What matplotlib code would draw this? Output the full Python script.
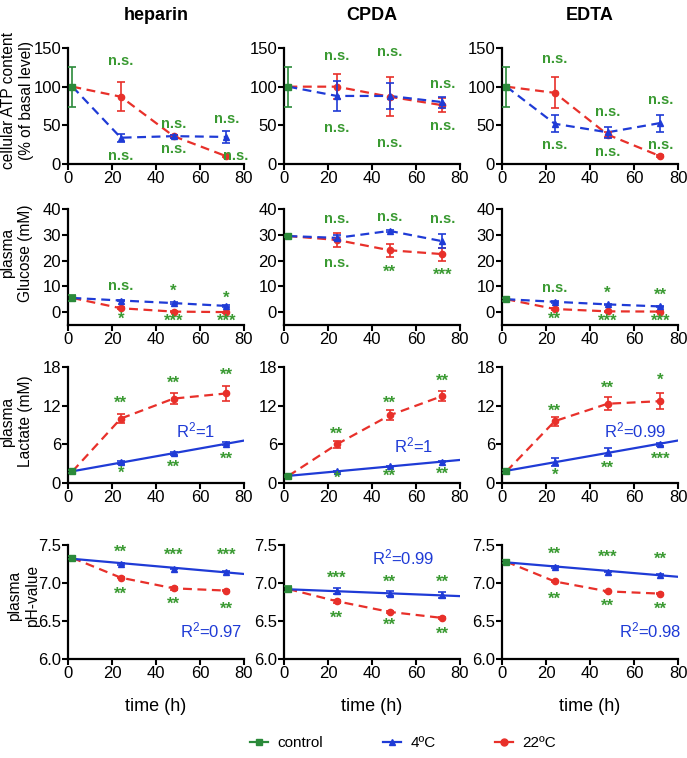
import numpy as np
import matplotlib
matplotlib.use("Agg")
import matplotlib.pyplot as plt
from matplotlib.lines import Line2D

plt.rcParams['font.family'] = ['Liberation Sans', 'DejaVu Sans']
plt.rcParams['mathtext.default'] = 'regular'

columns = ["heparin", "CPDA", "EDTA"]
t_control = 2
times = [24, 48, 72]

# ATP (% of basal level)
atp_control = [100, 100, 100]
atp_control_err = [26, 26, 26]
atp_4c = [[34, 36, 35], [88, 88, 80], [52, 41, 53]]
atp_4c_err = [[5, 2, 8], [19, 17, 7], [11, 7, 11]]
atp_22c = [[87, 36, 10], [100, 87, 76], [92, 38, 10]]
atp_22c_err = [[19, 2, 1], [16, 25, 9], [20, 3, 1]]

# plasma glucose (mM)
glu_control = [5.5, 29.5, 5.0]
glu_control_err = [1.0, 0.5, 0.5]
glu_4c = [[4.5, 3.5, 2.4], [28.8, 31.5, 27.5], [4.0, 3.0, 2.2]]
glu_4c_err = [[0.3, 0.3, 0.3], [1.0, 0.5, 2.8], [0.3, 0.3, 0.3]]
glu_22c = [[1.5, 0.2, 0.0], [28.0, 24.0, 22.5], [1.2, 0.3, 0.2]]
glu_22c_err = [[0.3, 0.2, 0.2], [2.8, 2.5, 2.5], [0.3, 0.2, 0.2]]

# plasma lactate (mM)
lac_control = [1.8, 1.1, 1.8]
lac_control_err = [0.2, 0.2, 0.2]
lac_4c = [[3.2, 4.6, 6.1], [1.8, 2.6, 3.3], [3.3, 4.8, 6.0]]
lac_4c_err = [[0.2, 0.2, 0.2], [0.1, 0.1, 0.1], [0.6, 0.6, 0.2]]
lac_22c = [[10.0, 13.1, 13.9], [6.0, 10.5, 13.5], [9.6, 12.3, 12.7]]
lac_22c_err = [[0.7, 0.8, 1.1], [0.5, 0.8, 0.8], [0.7, 1.0, 1.2]]

# plasma pH
ph_control = [7.33, 6.92, 7.28]
ph_control_err = [0.02, 0.04, 0.02]
ph_4c = [[7.25, 7.19, 7.15], [6.89, 6.86, 6.84], [7.21, 7.15, 7.11]]
ph_4c_err = [[0.01, 0.01, 0.01], [0.04, 0.03, 0.04], [0.01, 0.01, 0.01]]
ph_22c = [[7.07, 6.93, 6.90], [6.76, 6.62, 6.54], [7.02, 6.89, 6.86]]
ph_22c_err = [[0.01, 0.02, 0.01], [0.02, 0.01, 0.01], [0.01, 0.01, 0.01]]

# significance labels (upper / lower) at 24, 48, 72 h
atp_sig_up = [["n.s."] * 3] * 3
atp_sig_up_y = [[133, 52, 58], [140, 145, 103], [136, 67, 83]]
atp_sig_lo = [["n.s."] * 3] * 3
atp_sig_lo_y = [[10, 19, 10], [46, 27, 49], [25, 15, 24]]

glu_sig_up = [["n.s.", "*", "*"], ["n.s.", "n.s.", "n.s."], ["n.s.", "*", "**"]]
glu_sig_up_y = [[10.2, 8.6, 5.9], [36, 37, 36], [9.4, 8, 7]]
glu_sig_lo = [["*", "***", "***"], ["n.s.", "**", "***"], ["**", "***", "***"]]
glu_sig_lo_y = [[-2.3, -3.1, -3.0], [19, 16, 15], [-2, -2.8, -2.8]]

lac_sig_up = [["**", "**", "**"], ["**", "**", "**"], ["**", "**", "*"]]
lac_sig_up_y = [[12.6, 15.7, 17], [7.8, 12.6, 16], [11.3, 15, 16.1]]
lac_sig_lo = [["*", "**", "**"], ["*", "**", "**"], ["*", "**", "***"]]
lac_sig_lo_y = [[1.7, 2.6, 3.9], [1.0, 1.3, 1.6], [1.4, 2.5, 3.9]]

ph_sig_up = [["**", "***", "***"], ["***", "**", "**"], ["**", "***", "**"]]
ph_sig_up_y = [[7.42, 7.38, 7.38], [7.08, 7.03, 7.03], [7.4, 7.36, 7.33]]
ph_sig_lo = [["**", "**", "**"], ["**", "**", "**"], ["**", "**", "**"]]
ph_sig_lo_y = [[6.87, 6.74, 6.68], [6.55, 6.47, 6.35], [6.8, 6.71, 6.67]]

lac_r2 = ["R$^2$=1", "R$^2$=1", "R$^2$=0.99"]
lac_r2_pos = [(58, 8.2), (59, 5.8), (60.6, 8.1)]
ph_r2 = ["R$^2$=0.97", "R$^2$=0.99", "R$^2$=0.98"]
ph_r2_pos = [(65, 6.38), (54, 7.34), (67.5, 6.38)]

GREEN = "#2b8a3a"
SIG_GREEN = "#3a9a32"
BLUE = "#1f3bd6"
RED = "#e8302a"

rows = [
    dict(ylabel="cellular ATP content\n(% of basal level)", ylim=(0, 150), yticks=[0, 50, 100, 150],
         ctrl=atp_control, ctrl_err=atp_control_err, c4=atp_4c, c4e=atp_4c_err,
         c22=atp_22c, c22e=atp_22c_err, fit=False, label_xy=(-0.195, 0.55),
         up=atp_sig_up, up_y=atp_sig_up_y, lo=atp_sig_lo, lo_y=atp_sig_lo_y),
    dict(ylabel="plasma\nGlucose (mM)", ylim=(-5, 40), yticks=[0, 10, 20, 30, 40],
         ctrl=glu_control, ctrl_err=glu_control_err, c4=glu_4c, c4e=glu_4c_err,
         c22=glu_22c, c22e=glu_22c_err, fit=False, label_xy=(-0.2, 0.62),
         up=glu_sig_up, up_y=glu_sig_up_y, lo=glu_sig_lo, lo_y=glu_sig_lo_y),
    dict(ylabel="plasma\nLactate (mM)", ylim=(0, 18), yticks=[0, 6, 12, 18],
         ctrl=lac_control, ctrl_err=lac_control_err, c4=lac_4c, c4e=lac_4c_err,
         c22=lac_22c, c22e=lac_22c_err, fit=True, r2=lac_r2, r2_pos=lac_r2_pos,
         label_xy=(-0.2, 0.53),
         up=lac_sig_up, up_y=lac_sig_up_y, lo=lac_sig_lo, lo_y=lac_sig_lo_y),
    dict(ylabel="plasma\npH-value", ylim=(6.0, 7.5), yticks=[6.0, 6.5, 7.0, 7.5],
         ctrl=ph_control, ctrl_err=ph_control_err, c4=ph_4c, c4e=ph_4c_err,
         c22=ph_22c, c22e=ph_22c_err, fit=True, r2=ph_r2, r2_pos=ph_r2_pos,
         label_xy=(-0.16, 0.55),
         up=ph_sig_up, up_y=ph_sig_up_y, lo=ph_sig_lo, lo_y=ph_sig_lo_y),
]

W, H = 687, 758
fig = plt.figure(figsize=(W / 100, H / 100), dpi=100)

col_left = [68, 284, 502]
col_width = 176
row_top = [48, 209, 367, 545]
row_bottom = [164, 325, 483, 659]

for r, row in enumerate(rows):
    for c in range(3):
        x0 = col_left[c] / W
        y0 = 1 - row_bottom[r] / H
        ax = fig.add_axes([x0, y0, col_width / W, (row_bottom[r] - row_top[r]) / H])
        ax.set_xlim(0, 80)
        ax.set_ylim(*row["ylim"])
        ax.set_xticks([0, 20, 40, 60, 80])
        ax.set_yticks(row["yticks"])
        if r == 3:
            ax.set_yticklabels([f"{v:.1f}" for v in row["yticks"]])
        for s in ["top", "right"]:
            ax.spines[s].set_visible(False)
        for s in ["left", "bottom"]:
            ax.spines[s].set_linewidth(1.6)
        ax.tick_params(width=1.5, length=4, labelsize=12, pad=1)

        ctrl = row["ctrl"][c]
        xs = [t_control] + times
        y4 = [ctrl] + row["c4"][c]
        y22 = [ctrl] + row["c22"][c]

        # 22 C dashed
        ax.plot(xs, y22, ls="--", color=RED, lw=1.6, dashes=(4, 2.5), zorder=2)
        ax.errorbar(times, row["c22"][c], yerr=row["c22e"][c], fmt="o", color=RED,
                    ms=4.5, capsize=3, elinewidth=1.2, capthick=1.2, zorder=3)
        # 4 C
        if row["fit"]:
            k, b = np.polyfit(xs, y4, 1)
            xf = np.array([t_control, 80])
            ax.plot(xf, k * xf + b, color=BLUE, lw=1.6, zorder=2)
            ax.text(*row["r2_pos"][c], row["r2"][c], color=BLUE, fontsize=12,
                    ha="center", va="center")
        else:
            ax.plot(xs, y4, ls="--", color=BLUE, lw=1.6, dashes=(4, 2.5), zorder=2)
        ax.errorbar(times, row["c4"][c], yerr=row["c4e"][c], fmt="^", color=BLUE,
                    ms=4.5, capsize=3, elinewidth=1.2, capthick=1.2, zorder=4)
        # control
        ax.errorbar([t_control], [ctrl], yerr=[row["ctrl_err"][c]], fmt="s", color=GREEN,
                    ms=5, capsize=3, elinewidth=1.2, capthick=1.2, zorder=5)

        for i, t in enumerate(times):
            for lab, ly in ((row["up"][c][i], row["up_y"][c][i]), (row["lo"][c][i], row["lo_y"][c][i])):
                tx = t
                if r == 0 and c == 0 and i == 2 and ly < 30:
                    tx = 76
                ns = lab == "n.s."
                ax.text(tx, ly, lab, color=SIG_GREEN, fontsize=10.5 if ns else 12,
                        fontweight="bold", ha="center",
                        va="center" if ns else "center_baseline", clip_on=False, zorder=6)

        if c == 0:
            ax.set_ylabel(row["ylabel"], fontsize=11.2, linespacing=1.2)
            ax.yaxis.set_label_coords(*row["label_xy"])
        if r == 0:
            ax.set_title(columns[c], fontsize=13, fontweight="bold", pad=20)
        if r == 3:
            ax.set_xlabel("time (h)", fontsize=13, labelpad=12)

handles = [
    Line2D([], [], color=GREEN, marker="s", ms=5, lw=1.6),
    Line2D([], [], color=BLUE, marker="^", ms=5, lw=1.6),
    Line2D([], [], color=RED, marker="o", ms=5, lw=1.6),
]
fig.legend(handles, ["control", "4ºC", "22ºC"], loc="center", ncol=3,
           bbox_to_anchor=(0.587, 1 - 743 / H), frameon=False, fontsize=11,
           handlelength=1.2, columnspacing=3.9, handletextpad=0.6)

fig.savefig("out.png", dpi=100)
